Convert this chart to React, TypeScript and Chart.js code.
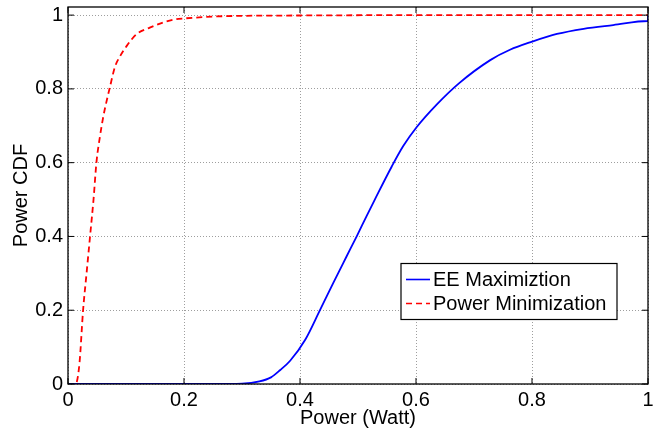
import React, { useEffect, useRef } from "react";
import { Chart, registerables } from "chart.js";

Chart.register(...registerables);

const eeX = [0, 0.25, 0.3, 0.33, 0.35, 0.366, 0.383, 0.409, 0.434, 0.457, 0.48, 0.498, 0.515, 0.529, 0.558, 0.578, 0.601, 0.636, 0.674, 0.728, 0.762, 0.8, 0.843, 0.889, 0.94, 1.0, 1.0];
const eeY = [0, 0, 0.001, 0.007, 0.018, 0.038, 0.063, 0.12, 0.199, 0.273, 0.345, 0.401, 0.456, 0.5, 0.589, 0.645, 0.696, 0.758, 0.815, 0.878, 0.906, 0.928, 0.949, 0.963, 0.973, 0.984, 1.0];

const pmX = [0, 0.012, 0.015, 0.02, 0.026, 0.032, 0.038, 0.044, 0.049, 0.055, 0.061, 0.067, 0.072, 0.081, 0.09, 0.101, 0.118, 0.141, 0.164, 0.187, 0.2, 0.25, 0.3, 0.4, 0.6, 1.0];
const pmY = [0, 0, 0.005, 0.06, 0.2, 0.3, 0.4, 0.5, 0.6, 0.67, 0.726, 0.77, 0.803, 0.86, 0.889, 0.916, 0.948, 0.966, 0.98, 0.989, 0.991, 0.996, 0.998, 0.999, 1, 1];

const tickValues = [0, 0.2, 0.4, 0.6, 0.8, 1];
const seriesLabels = ["EE Maximiztion", "Power Minimization"];
const xTitle = "Power (Watt)";
const yTitle = "Power CDF";

const FONT = "'Liberation Sans', Arial, Helvetica, sans-serif";

const framePlugin = {
  id: "frame",
  afterDatasetsDraw(chart: any) {
    const { ctx, chartArea: a, scales } = chart;
    ctx.save();
    ctx.strokeStyle = "#000";
    ctx.lineWidth = 1.3;
    ctx.strokeRect(a.left, a.top, a.right - a.left, a.bottom - a.top);
    ctx.lineWidth = 1;
    const L = 6;
    ctx.beginPath();
    tickValues.forEach((v) => {
      const x = scales.x.getPixelForValue(v);
      ctx.moveTo(x, a.bottom);
      ctx.lineTo(x, a.bottom - L);
      ctx.moveTo(x, a.top);
      ctx.lineTo(x, a.top + L);
      const y = scales.y.getPixelForValue(v);
      ctx.moveTo(a.left, y);
      ctx.lineTo(a.left + L, y);
      ctx.moveTo(a.right, y);
      ctx.lineTo(a.right - L, y);
    });
    ctx.stroke();
    ctx.restore();
  },
  afterDraw(chart: any) {
    const { ctx } = chart;
    const bx = 401, by = 263.5, bw = 216, bh = 56;
    ctx.save();
    ctx.fillStyle = "#fff";
    ctx.fillRect(bx, by, bw, bh);
    ctx.strokeStyle = "#000";
    ctx.lineWidth = 1.2;
    ctx.strokeRect(bx, by, bw, bh);
    const rows = [279.5, 303.5];
    chart.data.datasets.forEach((ds: any, i: number) => {
      const y = rows[i];
      ctx.beginPath();
      ctx.strokeStyle = ds.borderColor;
      ctx.lineWidth = 1.6;
      ctx.setLineDash(ds.borderDash || []);
      ctx.moveTo(406, y);
      ctx.lineTo(430, y);
      ctx.stroke();
      ctx.setLineDash([]);
      ctx.fillStyle = "#000";
      ctx.font = `20px ${FONT}`;
      ctx.textBaseline = "middle";
      ctx.textAlign = "left";
      ctx.fillText(ds.label, 433, y + 1);
    });
    ctx.restore();
  },
};

export default function App() {
  const ref = useRef<HTMLCanvasElement>(null);
  useEffect(() => {
    const toTicks = (scale: any) => {
      scale.ticks = tickValues.map((v) => ({ value: v }));
    };
    const gridOpts = { color: "rgba(0,0,0,0.38)", drawTicks: false, lineWidth: 1 };
    const borderOpts = { display: false, dash: [1, 2] };
    const chart = new Chart(ref.current!, {
      type: "line",
      data: {
        datasets: [
          {
            label: seriesLabels[0],
            data: eeX.map((x, i) => ({ x, y: eeY[i] })),
            borderColor: "#0000ff",
            borderWidth: 1.8,
            pointRadius: 0,
            fill: false,
            cubicInterpolationMode: "monotone",
          },
          {
            label: seriesLabels[1],
            data: pmX.map((x, i) => ({ x, y: pmY[i] })),
            borderColor: "#ff0000",
            borderWidth: 1.8,
            borderDash: [6, 4],
            pointRadius: 0,
            fill: false,
            cubicInterpolationMode: "monotone",
          },
        ],
      },
      options: {
        animation: false,
        responsive: false,
        devicePixelRatio: 1,
        layout: { padding: { left: 0, right: 12, top: 7, bottom: 0 } },
        plugins: { legend: { display: false }, tooltip: { enabled: false } },
        scales: {
          x: {
            type: "linear",
            min: 0,
            max: 1,
            afterBuildTicks: toTicks,
            afterFit: (s: any) => {
              s.height = 44;
              s.paddingLeft = 0;
              s.paddingRight = 0;
            },
            border: borderOpts,
            grid: gridOpts,
            ticks: {
              padding: 4,
              color: "#000",
              font: { family: FONT, size: 20 },
              maxRotation: 0,
              callback: (v: any) => String(Math.round(Number(v) * 10) / 10),
            },
            title: {
              display: true,
              text: xTitle,
              color: "#000",
              font: { family: FONT, size: 20 },
              padding: { top: 0, bottom: -2 },
            },
          },
          y: {
            type: "linear",
            min: 0,
            max: 1.022,
            afterBuildTicks: toTicks,
            afterFit: (s: any) => {
              s.width = 68;
              s.paddingTop = 0;
              s.paddingBottom = 0;
            },
            border: borderOpts,
            grid: gridOpts,
            ticks: {
              padding: 5,
              color: "#000",
              font: { family: FONT, size: 20 },
              callback: (v: any) => String(Math.round(Number(v) * 10) / 10),
            },
            title: {
              display: true,
              text: yTitle,
              color: "#000",
              font: { family: FONT, size: 20 },
              padding: { top: 9, bottom: 0 },
            },
          },
        },
      } as any,
      plugins: [framePlugin],
    });
    return () => chart.destroy();
  }, []);
  return (
    <div style={{ position: "fixed", left: 0, top: 0, width: 660, height: 428, background: "#fff" }}>
      <canvas ref={ref} width={660} height={428} style={{ display: "block" }} />
    </div>
  );
}
